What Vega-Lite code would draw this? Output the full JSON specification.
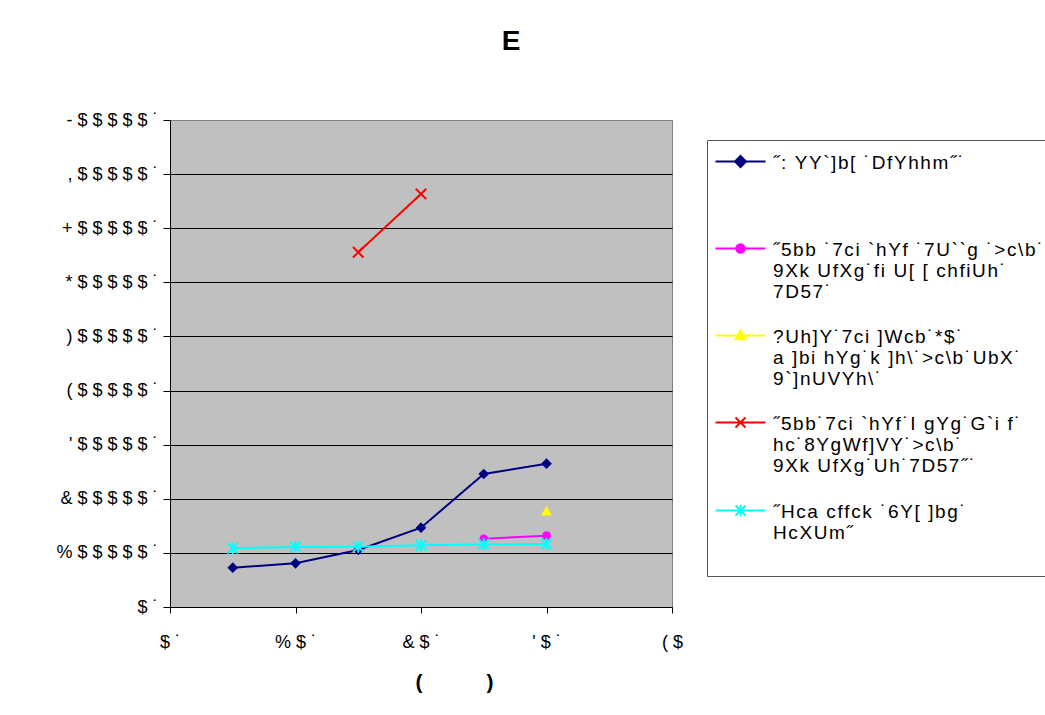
{
  "$schema": "https://vega.github.io/schema/vega-lite/v6.json",
  "width": 502,
  "height": 487,
  "autosize": {"type": "none"},
  "padding": {"left": 170, "top": 120, "right": 373, "bottom": 108},
  "background": "white",
  "view": {"fill": "#C0C0C0", "stroke": "#808080", "strokeWidth": 1},
  "title": {"text": "E", "font": "Liberation Sans", "fontSize": 28, "fontWeight": "bold", "color": "black", "anchor": "middle", "frame": "group", "dx": 90, "offset": 55},
  "datasets": {
    "pts": [
      {"k": "A", "x": 5, "y": 72600},
      {"k": "A", "x": 10, "y": 80800},
      {"k": "A", "x": 15, "y": 105400},
      {"k": "A", "x": 20, "y": 146600},
      {"k": "A", "x": 25, "y": 245800},
      {"k": "A", "x": 30, "y": 264900},
      {"k": "B", "x": 25, "y": 126200},
      {"k": "B", "x": 30, "y": 131800},
      {"k": "C", "x": 30, "y": 178000},
      {"k": "D", "x": 15, "y": 655600},
      {"k": "D", "x": 20, "y": 763400},
      {"k": "E", "x": 5, "y": 108500},
      {"k": "E", "x": 10, "y": 110900},
      {"k": "E", "x": 15, "y": 111500},
      {"k": "E", "x": 20, "y": 114000},
      {"k": "E", "x": 25, "y": 115900},
      {"k": "E", "x": 30, "y": 116500}
    ],
    "series": [
      {"series": "˝: YY`]b[ ˙DfYhhm˝˙| | "},
      {"series": "˝5bb ˙7ci `hYf ˙7U``g ˙>c\\b˙|9Xk UfXg˙fi U[ [ chfiUh˙|7D57˙"},
      {"series": "?Uh]Y˙7ci ]Wcb˙*$˙|a ]bi hYg˙k ]h\\˙>c\\b˙UbX˙|9`]nUVYh\\˙"},
      {"series": "˝5bb˙7ci `hYf˙I gYg˙G`i f˙|hc˙8YgWf]VY˙>c\\b˙|9Xk UfXg˙Uh˙7D57˝˙"},
      {"series": "˝Hca cffck ˙6Y[ ]bg˙|HcXUm˝| "}
    ]
  },
  "encoding": {
    "x": {
      "field": "x", "type": "quantitative",
      "scale": {"domain": [0, 40], "nice": false, "zero": false},
      "axis": {
        "values": [0, 10, 20, 30, 40],
        "labelExpr": "['$\u2008˙', '%\u2008$\u2008˙', '&\u2008$\u2008˙', \"'\u2008$\u2008˙\", '(\u2008$'][round(datum.value/10)]",
        "title": "(\u00a0\u00a0\u00a0\u00a0\u00a0\u00a0\u00a0\u00a0\u00a0\u00a0\u00a0)",
        "titleFont": "Liberation Sans", "titleFontSize": 21, "titleFontWeight": "bold", "titleColor": "black",
        "titleX": 284, "titleY": 81, "titleAlign": "center", "titleBaseline": "alphabetic", "titleAnchor": null,
        "grid": false,
        "domainColor": "black", "domainWidth": 1,
        "tickColor": "black", "tickSize": 6, "tickWidth": 1,
        "labelFont": "Liberation Sans", "labelFontSize": 18, "labelColor": "black",
        "labelPadding": 20, "labelFlush": false, "labelOverlap": false
      }
    },
    "y": {
      "field": "y", "type": "quantitative",
      "scale": {"domain": [0, 900000], "nice": false},
      "axis": {
        "values": [0, 100000, 200000, 300000, 400000, 500000, 600000, 700000, 800000, 900000],
        "labelExpr": "['$\u2008˙', '%\u2008$\u2008$\u2008$\u2008$\u2008$\u2008˙', '&\u2008$\u2008$\u2008$\u2008$\u2008$\u2008˙', \"'\u2008$\u2008$\u2008$\u2008$\u2008$\u2008˙\", '(\u2008$\u2008$\u2008$\u2008$\u2008$\u2008˙', ')\u2008$\u2008$\u2008$\u2008$\u2008$\u2008˙', '*\u2008$\u2008$\u2008$\u2008$\u2008$\u2008˙', '+\u2008$\u2008$\u2008$\u2008$\u2008$\u2008˙', ',\u2008$\u2008$\u2008$\u2008$\u2008$\u2008˙', '-\u2008$\u2008$\u2008$\u2008$\u2008$\u2008˙'][round(datum.value/100000)]",
        "title": null,
        "grid": true, "gridWidth": 1, "gridOpacity": 1,
        "gridColor": {"condition": {"test": "datum.value >= 900000", "value": "#808080"}, "value": "black"},
        "domainColor": "black", "domainWidth": 1,
        "tickColor": "black", "tickSize": 7, "tickWidth": 1,
        "labelFont": "Liberation Sans", "labelFontSize": 18, "labelColor": "black",
        "labelPadding": 5, "labelFlush": false, "labelOverlap": false
      }
    }
  },
  "layer": [
    {
      "data": {"name": "pts"},
      "transform": [{"filter": "datum.k == 'A'"}],
      "mark": {"type": "line", "color": "#000080", "strokeWidth": 2,
        "point": {"shape": "diamond", "filled": true, "size": 115, "color": "#000080", "opacity": 1}}
    },
    {
      "data": {"name": "pts"},
      "transform": [{"filter": "datum.k == 'B'"}],
      "mark": {"type": "line", "color": "#FF00FF", "strokeWidth": 2,
        "point": {"shape": "circle", "filled": true, "size": 75, "color": "#FF00FF", "opacity": 1}}
    },
    {
      "data": {"name": "pts"},
      "transform": [{"filter": "datum.k == 'C'"}],
      "mark": {"type": "line", "color": "#FFFF00", "strokeWidth": 2,
        "point": {"shape": "triangle-up", "filled": true, "size": 120, "color": "#FFFF00", "opacity": 1}}
    },
    {
      "data": {"name": "pts"},
      "transform": [{"filter": "datum.k == 'D'"}],
      "mark": {"type": "line", "color": "#FF0000", "strokeWidth": 2,
        "point": {"shape": "M-1,-1L1,1M1,-1L-1,1", "filled": false, "size": 110, "color": "#FF0000", "strokeWidth": 2, "opacity": 1}}
    },
    {
      "data": {"name": "pts"},
      "transform": [{"filter": "datum.k == 'E'"}],
      "mark": {"type": "line", "color": "#00FFFF", "strokeWidth": 2,
        "point": {"shape": "M-1,-1L1,1M1,-1L-1,1M0,-1.15L0,1.15", "filled": false, "size": 110, "color": "#00FFFF", "strokeWidth": 2, "opacity": 1}}
    },
    {
      "data": {"name": "series"},
      "transform": [{"filter": "false"}],
      "mark": {"type": "point", "filled": true, "strokeWidth": 2, "opacity": 1},
      "encoding": {
        "x": null,
        "y": null,
        "fill": {
          "field": "series", "type": "nominal",
          "scale": {
            "domain": [
              "˝: YY`]b[ ˙DfYhhm˝˙| | ",
              "˝5bb ˙7ci `hYf ˙7U``g ˙>c\\b˙|9Xk UfXg˙fi U[ [ chfiUh˙|7D57˙",
              "?Uh]Y˙7ci ]Wcb˙*$˙|a ]bi hYg˙k ]h\\˙>c\\b˙UbX˙|9`]nUVYh\\˙",
              "˝5bb˙7ci `hYf˙I gYg˙G`i f˙|hc˙8YgWf]VY˙>c\\b˙|9Xk UfXg˙Uh˙7D57˝˙",
              "˝Hca cffck ˙6Y[ ]bg˙|HcXUm˝| "
            ],
            "range": ["#000080", "#FF00FF", "#FFFF00", "#FF0000", "#00FFFF"]
          },
          "legend": {
            "orient": "none", "legendX": 537, "legendY": 20,
            "title": null,
            "strokeColor": "#555555", "fillColor": "white", "padding": 12,
            "labelFont": "Liberation Sans", "labelFontSize": 19, "labelLineHeight": 22, "labelColor": "black",
            "labelLimit": 1000, "labelBaseline": "alphabetic",
            "labelExpr": "split(replace(datum.label, /(.)/g, '$1\u200a'), '|')",
            "rowPadding": 24, "symbolSize": 100, "symbolStrokeWidth": 2, "symbolOpacity": 1, "symbolOffset": 12, "labelOffset": 23,
            "encode": {"labels": {"update": {"dy": {"value": 7}}}}
          }
        },
        "stroke": {
          "field": "series", "type": "nominal",
          "scale": {
            "domain": [
              "˝: YY`]b[ ˙DfYhhm˝˙| | ",
              "˝5bb ˙7ci `hYf ˙7U``g ˙>c\\b˙|9Xk UfXg˙fi U[ [ chfiUh˙|7D57˙",
              "?Uh]Y˙7ci ]Wcb˙*$˙|a ]bi hYg˙k ]h\\˙>c\\b˙UbX˙|9`]nUVYh\\˙",
              "˝5bb˙7ci `hYf˙I gYg˙G`i f˙|hc˙8YgWf]VY˙>c\\b˙|9Xk UfXg˙Uh˙7D57˝˙",
              "˝Hca cffck ˙6Y[ ]bg˙|HcXUm˝| "
            ],
            "range": ["#000080", "#FF00FF", "#FFFF00", "#FF0000", "#00FFFF"]
          },
          "legend": {
            "orient": "none", "legendX": 537, "legendY": 20,
            "title": null,
            "strokeColor": "#555555", "fillColor": "white", "padding": 12,
            "labelFont": "Liberation Sans", "labelFontSize": 19, "labelLineHeight": 22, "labelColor": "black",
            "labelLimit": 1000, "labelBaseline": "alphabetic",
            "labelExpr": "split(replace(datum.label, /(.)/g, '$1\u200a'), '|')",
            "rowPadding": 24, "symbolSize": 100, "symbolStrokeWidth": 2, "symbolOpacity": 1, "symbolOffset": 12, "labelOffset": 23,
            "encode": {"labels": {"update": {"dy": {"value": 7}}}}
          }
        },
        "shape": {
          "field": "series", "type": "nominal",
          "scale": {
            "domain": [
              "˝: YY`]b[ ˙DfYhhm˝˙| | ",
              "˝5bb ˙7ci `hYf ˙7U``g ˙>c\\b˙|9Xk UfXg˙fi U[ [ chfiUh˙|7D57˙",
              "?Uh]Y˙7ci ]Wcb˙*$˙|a ]bi hYg˙k ]h\\˙>c\\b˙UbX˙|9`]nUVYh\\˙",
              "˝5bb˙7ci `hYf˙I gYg˙G`i f˙|hc˙8YgWf]VY˙>c\\b˙|9Xk UfXg˙Uh˙7D57˝˙",
              "˝Hca cffck ˙6Y[ ]bg˙|HcXUm˝| "
            ],
            "range": [
              "M-5,0H5M0,-1.1L1.1,0L0,1.1L-1.1,0Z",
              "M-5,0H5M-0.85,0A0.85,0.85 0 1,0 0.85,0A0.85,0.85 0 1,0 -0.85,0Z",
              "M-5,0H5M0,-1L1,0.75L-1,0.75Z",
              "M-5,0H5M-1,-1L1,1M1,-1L-1,1",
              "M-5,0H5M-1,-1L1,1M1,-1L-1,1M0,-1.15L0,1.15"
            ]
          },
          "legend": {
            "orient": "none", "legendX": 537, "legendY": 20,
            "title": null,
            "strokeColor": "#555555", "fillColor": "white", "padding": 12,
            "labelFont": "Liberation Sans", "labelFontSize": 19, "labelLineHeight": 22, "labelColor": "black",
            "labelLimit": 1000, "labelBaseline": "alphabetic",
            "labelExpr": "split(replace(datum.label, /(.)/g, '$1\u200a'), '|')",
            "rowPadding": 24, "symbolSize": 100, "symbolStrokeWidth": 2, "symbolOpacity": 1, "symbolOffset": 12, "labelOffset": 23,
            "encode": {"labels": {"update": {"dy": {"value": 7}}}}
          }
        }
      }
    }
  ],
  "config": {
    "font": "Liberation Sans",
    "view": {"fill": "#C0C0C0", "stroke": "#808080", "strokeWidth": 1},
    "style": {"cell": {"fill": "#C0C0C0", "stroke": "#808080", "strokeWidth": 1}}
  }
}
